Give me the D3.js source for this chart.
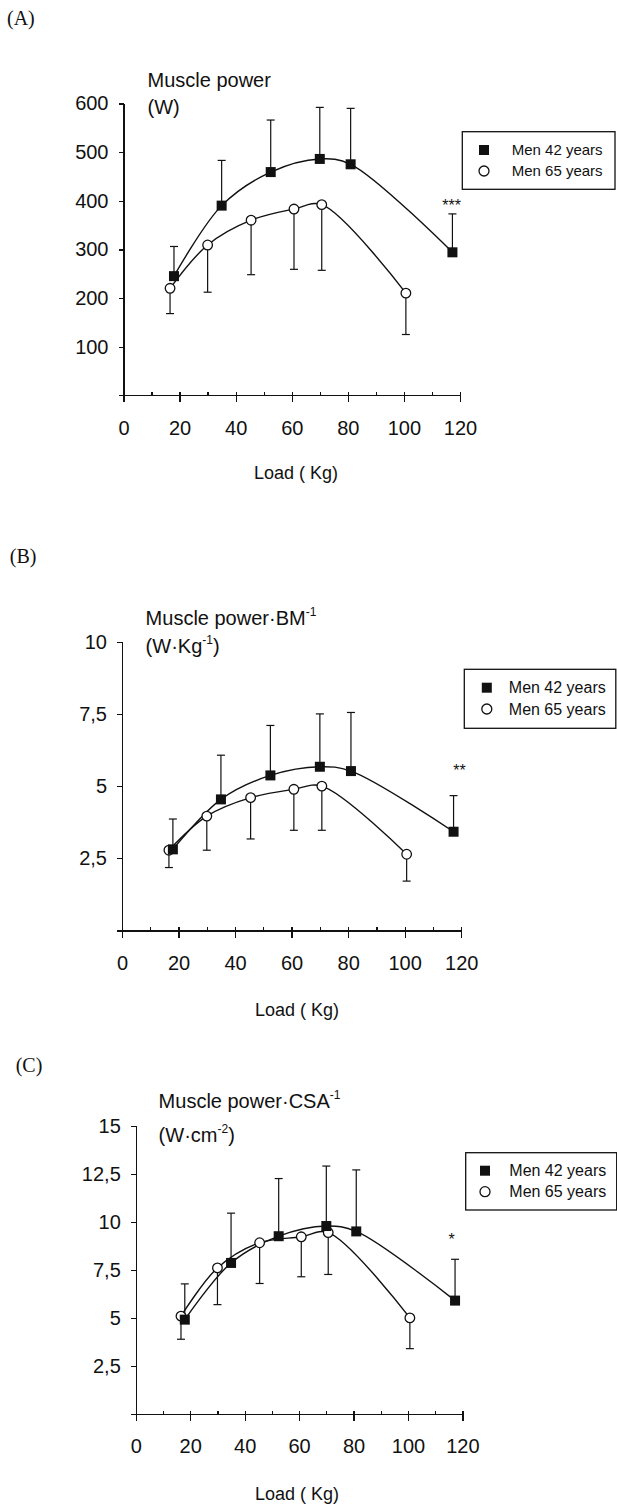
<!DOCTYPE html>
<html lang="en">
<head>
  <meta charset="UTF-8" />
  <title>Muscle power vs load</title>
  <script src="https://d3js.org/d3.v7.min.js"></script>
  <style>
    body {
      margin: 0;
      padding: 0;
      background: #fff;
    }
    svg text {
      font-family: "Liberation Sans", Arial, sans-serif;
      fill: #111;
    }
    .panel-label {
      font-family: "Liberation Serif", "Times New Roman", serif !important;
      font-size: 20px;
    }
    .axis path,
    .axis line {
      stroke: #111;
      stroke-width: 1.3px;
      shape-rendering: crispEdges;
    }
    .axis text {
      font-size: 20px;
    }
    .curve {
      fill: none;
      stroke: #111;
      stroke-width: 1.4px;
    }
    .err {
      stroke: #111;
      stroke-width: 1.2px;
    }
  </style>
</head>
<body>
  <svg width="617" height="1504"></svg>
  <script>
    // loads (kg) for each group
    const loads42 = [18, 35, 52.5, 70, 81, 117.3];
    const loads65 = [16.6, 30, 45.5, 60.8, 70.7, 100.7];

    // (A) muscle power, W
    const powerA42 = [245, 390, 459, 486, 475, 294];
    const powerA42Hi = [306, 483, 566, 592, 590, 373];
    const powerA65 = [220, 309, 360, 383, 392, 210];
    const powerA65Lo = [168, 212, 248, 259, 257, 125];

    // (B) muscle power per body mass, W/kg
    const powerB42 = [2.81, 4.54, 5.37, 5.67, 5.52, 3.42];
    const powerB42Hi = [3.86, 6.07, 7.10, 7.50, 7.55, 4.67];
    const powerB65 = [2.78, 3.96, 4.60, 4.89, 5.00, 2.64];
    const powerB65Lo = [2.18, 2.78, 3.17, 3.47, 3.47, 1.71];

    // (C) muscle power per CSA, W/cm2
    const powerC42 = [4.91, 7.86, 9.25, 9.78, 9.50, 5.90];
    const powerC42Hi = [6.77, 10.45, 12.25, 12.9, 12.7, 8.05];
    const powerC65 = [5.09, 7.60, 8.91, 9.22, 9.44, 5.00];
    const powerC65Lo = [3.89, 5.69, 6.79, 7.14, 7.26, 3.40];

    const ticksA = [100, 200, 300, 400, 500, 600];
    const ticksB = [2.5, 5, 7.5, 10];
    const ticksC = [2.5, 5, 7.5, 10, 12.5, 15];
    const xTicks = [0, 20, 40, 60, 80, 100, 120];
    const xMinor = [10, 30, 50, 70, 90, 110];
    const legendNames = ["Men 42 years", "Men 65 years"];

    const svg = d3.select("svg");
    const fmt = d => String(d).replace(".", ",");

    const panels = [
      {
        label: "(A)", labelPos: [7, 25],
        title: ["Muscle power", ""], unit: ["(W)", ""],
        titlePos: [147.5, 87, 114],
        xr: [123.5, 460], yr: [395.3, 103.5], yMax: 600, yTicks: ticksA,
        s42: powerA42, e42: powerA42Hi, s65: powerA65, e65: powerA65Lo,
        legend: [462.3, 131.7, 152.7, 57.6, 484, 150, 171, 511.7, 15],
        star: ["***", 451.7, 211],
        xlab: [296, 479], xlabOff: 40
      },
      {
        label: "(B)", labelPos: [9.8, 563],
        title: ["Muscle power\u00b7BM", "-1"], unit: ["(W\u00b7Kg", "-1", ")"],
        titlePos: [145.6, 625, 653],
        xr: [122, 461.2], yr: [930.5, 641.7], yMax: 10, yTicks: ticksB,
        s42: powerB42, e42: powerB42Hi, s65: powerB65, e65: powerB65Lo,
        legend: [464.3, 669.3, 151.5, 59, 486.8, 687.7, 709, 508.8, 16],
        star: ["**", 459.6, 776],
        xlab: [297, 1016], xlabOff: 39
      },
      {
        label: "(C)", labelPos: [15.7, 1071.7],
        title: ["Muscle power\u00b7CSA", "-1"], unit: ["(W\u00b7cm", "-2", ")"],
        titlePos: [158.6, 1108.3, 1141.7],
        xr: [135.8, 462.4], yr: [1414, 1125.7], yMax: 15, yTicks: ticksC,
        s42: powerC42, e42: powerC42Hi, s65: powerC65, e65: powerC65Lo,
        legend: [465.7, 1152.7, 151, 57.3, 485, 1170.7, 1191.7, 509.3, 16],
        star: ["*", 451.7, 1245],
        xlab: [297, 1500], xlabOff: 39
      }
    ];

    function drawPanel(p) {
      const g = svg.append("g");
      const x = d3.scaleLinear().domain([0, 120]).range(p.xr);
      const y = d3.scaleLinear().domain([0, p.yMax]).range(p.yr);

      // y axis (0 tick unlabeled, it pokes left past the x axis)
      g.append("g")
        .attr("class", "axis")
        .attr("transform", `translate(${p.xr[0]},0)`)
        .call(d3.axisLeft(y).tickValues([0].concat(p.yTicks))
          .tickSize(5).tickSizeOuter(0).tickPadding(10)
          .tickFormat(d => d === 0 ? "" : fmt(d)));

      // x axis, major ticks cross the line
      const xa = g.append("g")
        .attr("class", "axis")
        .attr("transform", `translate(0,${p.yr[0]})`)
        .call(d3.axisBottom(x).tickValues(xTicks).tickSize(7).tickSizeOuter(0));
      xa.selectAll(".tick line").attr("y1", -3.3);
      xa.selectAll(".tick text").attr("y", p.xlabOff).attr("dy", 0);

      g.append("g")
        .attr("class", "axis")
        .attr("transform", `translate(0,${p.yr[0]})`)
        .call(d3.axisTop(x).tickValues(xMinor).tickSize(3.5).tickFormat(""))
        .select(".domain").remove();

      // titles
      const t1 = g.append("text").attr("x", p.titlePos[0]).attr("y", p.titlePos[1])
        .style("font-size", "20px").text(p.title[0]);
      if (p.title[1]) t1.append("tspan").attr("dy", -9).style("font-size", "12px").text(p.title[1]);
      const t2 = g.append("text").attr("x", p.titlePos[0]).attr("y", p.titlePos[2])
        .style("font-size", "20px").text(p.unit[0]);
      if (p.unit[1]) {
        t2.append("tspan").attr("dy", -9).style("font-size", "12px").text(p.unit[1]);
        t2.append("tspan").attr("dy", 9).text(p.unit[2]);
      }

      g.append("text").attr("class", "panel-label")
        .attr("x", p.labelPos[0]).attr("y", p.labelPos[1]).text(p.label);

      g.append("text").attr("x", p.xlab[0]).attr("y", p.xlab[1])
        .attr("text-anchor", "middle").style("font-size", "18px").text("Load ( Kg)");

      // error bars: 42 y up, 65 y down
      const cap = 4;
      const bars = [
        { xs: loads42, v: p.s42, e: p.e42 },
        { xs: loads65, v: p.s65, e: p.e65 }
      ];
      bars.forEach(b => {
        b.xs.forEach((k, i) => {
          const cx = x(k);
          g.append("line").attr("class", "err")
            .attr("x1", cx).attr("x2", cx).attr("y1", y(b.v[i])).attr("y2", y(b.e[i]));
          g.append("line").attr("class", "err")
            .attr("x1", cx - cap).attr("x2", cx + cap).attr("y1", y(b.e[i])).attr("y2", y(b.e[i]));
        });
      });

      const line = d3.line().curve(d3.curveCatmullRom.alpha(0.5))
        .x(d => x(d[0])).y(d => y(d[1]));

      g.append("path").attr("class", "curve").attr("d", line(d3.zip(loads65, p.s65)));
      g.append("path").attr("class", "curve").attr("d", line(d3.zip(loads42, p.s42)));

      g.selectAll(null).data(d3.zip(loads65, p.s65)).join("circle")
        .attr("cx", d => x(d[0])).attr("cy", d => y(d[1])).attr("r", 4.8)
        .attr("fill", "#fff").attr("stroke", "#111").attr("stroke-width", 1.3);

      const sq = 10;
      g.selectAll(null).data(d3.zip(loads42, p.s42)).join("rect")
        .attr("x", d => x(d[0]) - sq / 2).attr("y", d => y(d[1]) - sq / 2)
        .attr("width", sq).attr("height", sq).attr("fill", "#111");

      // significance stars
      g.append("text").attr("x", p.star[1]).attr("y", p.star[2])
        .attr("text-anchor", "middle").style("font-size", "16px").text(p.star[0]);

      // legend
      const L = p.legend;
      g.append("rect").attr("x", L[0]).attr("y", L[1]).attr("width", L[2]).attr("height", L[3])
        .attr("fill", "#fff").attr("stroke", "#111").attr("stroke-width", 1.3);
      g.append("rect").attr("x", L[4] - 5).attr("y", L[5] - 5).attr("width", 10).attr("height", 10)
        .attr("fill", "#111");
      g.append("circle").attr("cx", L[4]).attr("cy", L[6]).attr("r", 5)
        .attr("fill", "#fff").attr("stroke", "#111").attr("stroke-width", 1.3);
      [L[5], L[6]].forEach((ry, i) => {
        g.append("text").attr("x", L[7]).attr("y", ry + L[8] * 0.36)
          .style("font-size", L[8] + "px").text(legendNames[i]);
      });
    }

    panels.forEach(drawPanel);
  </script>
</body>
</html>
